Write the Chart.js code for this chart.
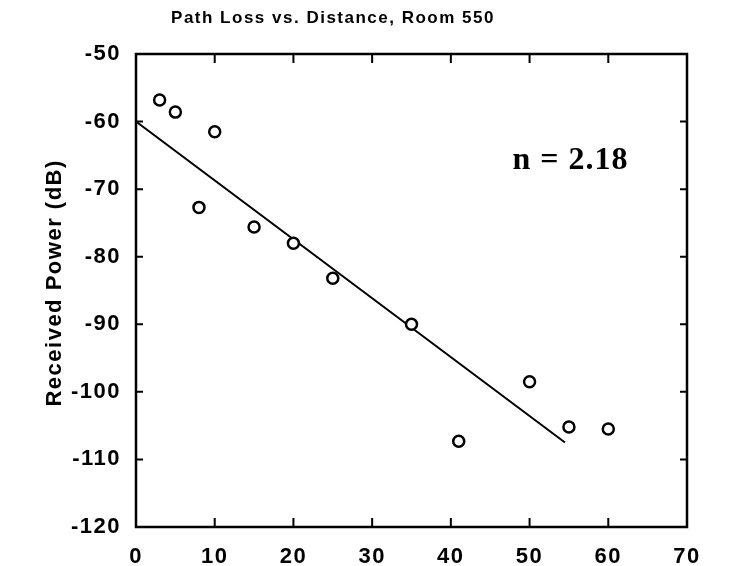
<!DOCTYPE html>
<html>
<head>
<meta charset="utf-8">
<script src="https://cdn.jsdelivr.net/npm/chart.js@4.4.1/dist/chart.umd.min.js"></script>
<style>
  html, body { margin: 0; padding: 0; background: #fff; }
</style>
</head>
<body>
<canvas id="chart" width="729" height="566"></canvas>
<script>
// measured data (distance in m, received power in dB)
const distances = [3, 5, 8, 10, 15, 20, 25, 35, 41, 50, 55, 60];
const powers = [-56.8, -58.6, -72.7, -61.5, -75.6, -78, -83.2, -90, -107.3, -98.5, -105.2, -105.5];

// fitted path loss line end points
const fitX = [0, 54.5];
const fitY = [-60, -107.5];

const chartTitle = 'Path Loss vs. Distance, Room 550';
const yTitle = '  Received Power (dB)';
const fitLabel = 'n = 2.18';

const ctx = document.getElementById('chart').getContext('2d');

//Old plot fonts are spaced out a bit, so widen all text while drawing
const spacingPlugin = {
    id: 'spacing',
    beforeDraw(chart) { chart.ctx.letterSpacing = '1.5px'; },
    afterDraw(chart) { chart.ctx.letterSpacing = '0px'; }
};

//Draw the box frame with inward ticks, the title and the n label
const framePlugin = {
    id: 'frame',
    afterDatasetsDraw(chart) {
        const c = chart.ctx;
        const a = chart.chartArea;
        const xs = chart.scales.x;
        const ys = chart.scales.y;
        c.save();
        c.strokeStyle = '#000';
        c.lineWidth = 2.5;
        c.strokeRect(a.left, a.top, a.right - a.left, a.bottom - a.top);

        c.lineWidth = 2;
        c.beginPath();
        xs.ticks.forEach(t => {
            if (t.value <= xs.min || t.value >= xs.max) return;
            const px = xs.getPixelForValue(t.value);
            c.moveTo(px, a.bottom); c.lineTo(px, a.bottom - 9);
            c.moveTo(px, a.top); c.lineTo(px, a.top + 9);
        });
        ys.ticks.forEach(t => {
            if (t.value <= ys.min || t.value >= ys.max) return;
            const py = ys.getPixelForValue(t.value);
            c.moveTo(a.left, py); c.lineTo(a.left + 7, py);
            c.moveTo(a.right, py); c.lineTo(a.right - 7, py);
        });
        c.stroke();

        // n value label
        c.fillStyle = '#000';
        c.letterSpacing = '1px';
        c.font = 'bold 32px "Liberation Serif", "Times New Roman", serif';
        c.textAlign = 'center';
        c.textBaseline = 'middle';
        c.fillText(fitLabel, xs.getPixelForValue(55.2), ys.getPixelForValue(-65.8));

        // chart title
        c.letterSpacing = '1.5px';
        c.font = 'bold 17px "Liberation Sans", Arial, sans-serif';
        c.fillText(chartTitle, 333, 18);
        c.restore();
    }
};

const myChart = new Chart(ctx, {
    type: 'scatter',
    data: {
        datasets: [
            {
                label: 'measured',
                data: distances.map((d, i) => ({ x: d, y: powers[i] })),
                pointStyle: 'circle',
                pointRadius: 5.5,
                pointBorderWidth: 2.5,
                pointBackgroundColor: '#fff',
                pointBorderColor: '#000',
                showLine: false
            },
            {
                label: 'fit',
                data: fitX.map((d, i) => ({ x: d, y: fitY[i] })),
                showLine: true,
                borderColor: '#000',
                borderWidth: 2,
                pointRadius: 0,
                fill: false
            }
        ]
    },
    options: {
        responsive: false,
        animation: false,
        layout: {
            padding: { left: 0, top: 54, right: 42, bottom: 0 }
        },
        scales: {
            x: {
                type: 'linear',
                min: 0,
                max: 70,
                afterFit: (scale) => { scale.height = 39; },
                grid: { display: false, drawTicks: false },
                border: { display: false },
                ticks: {
                    stepSize: 10,
                    padding: 17,
                    color: '#000',
                    font: { family: '"Liberation Sans", Arial, sans-serif', size: 22, weight: 'bold' }
                }
            },
            y: {
                min: -120,
                max: -50,
                afterFit: (scale) => { scale.width = 136; },
                grid: { display: false, drawTicks: false },
                border: { display: false },
                ticks: {
                    stepSize: 10,
                    padding: 15,
                    color: '#000',
                    font: { family: '"Liberation Sans", Arial, sans-serif', size: 22, weight: 'bold' }
                },
                title: {
                    display: true,
                    text: yTitle,
                    color: '#000',
                    padding: { top: 42, bottom: 0 },
                    font: { family: '"Liberation Sans", Arial, sans-serif', size: 22, weight: 'bold' }
                }
            }
        },
        plugins: {
            legend: { display: false },
            tooltip: { enabled: false }
        }
    },
    plugins: [spacingPlugin, framePlugin]
});
</script>
</body>
</html>
